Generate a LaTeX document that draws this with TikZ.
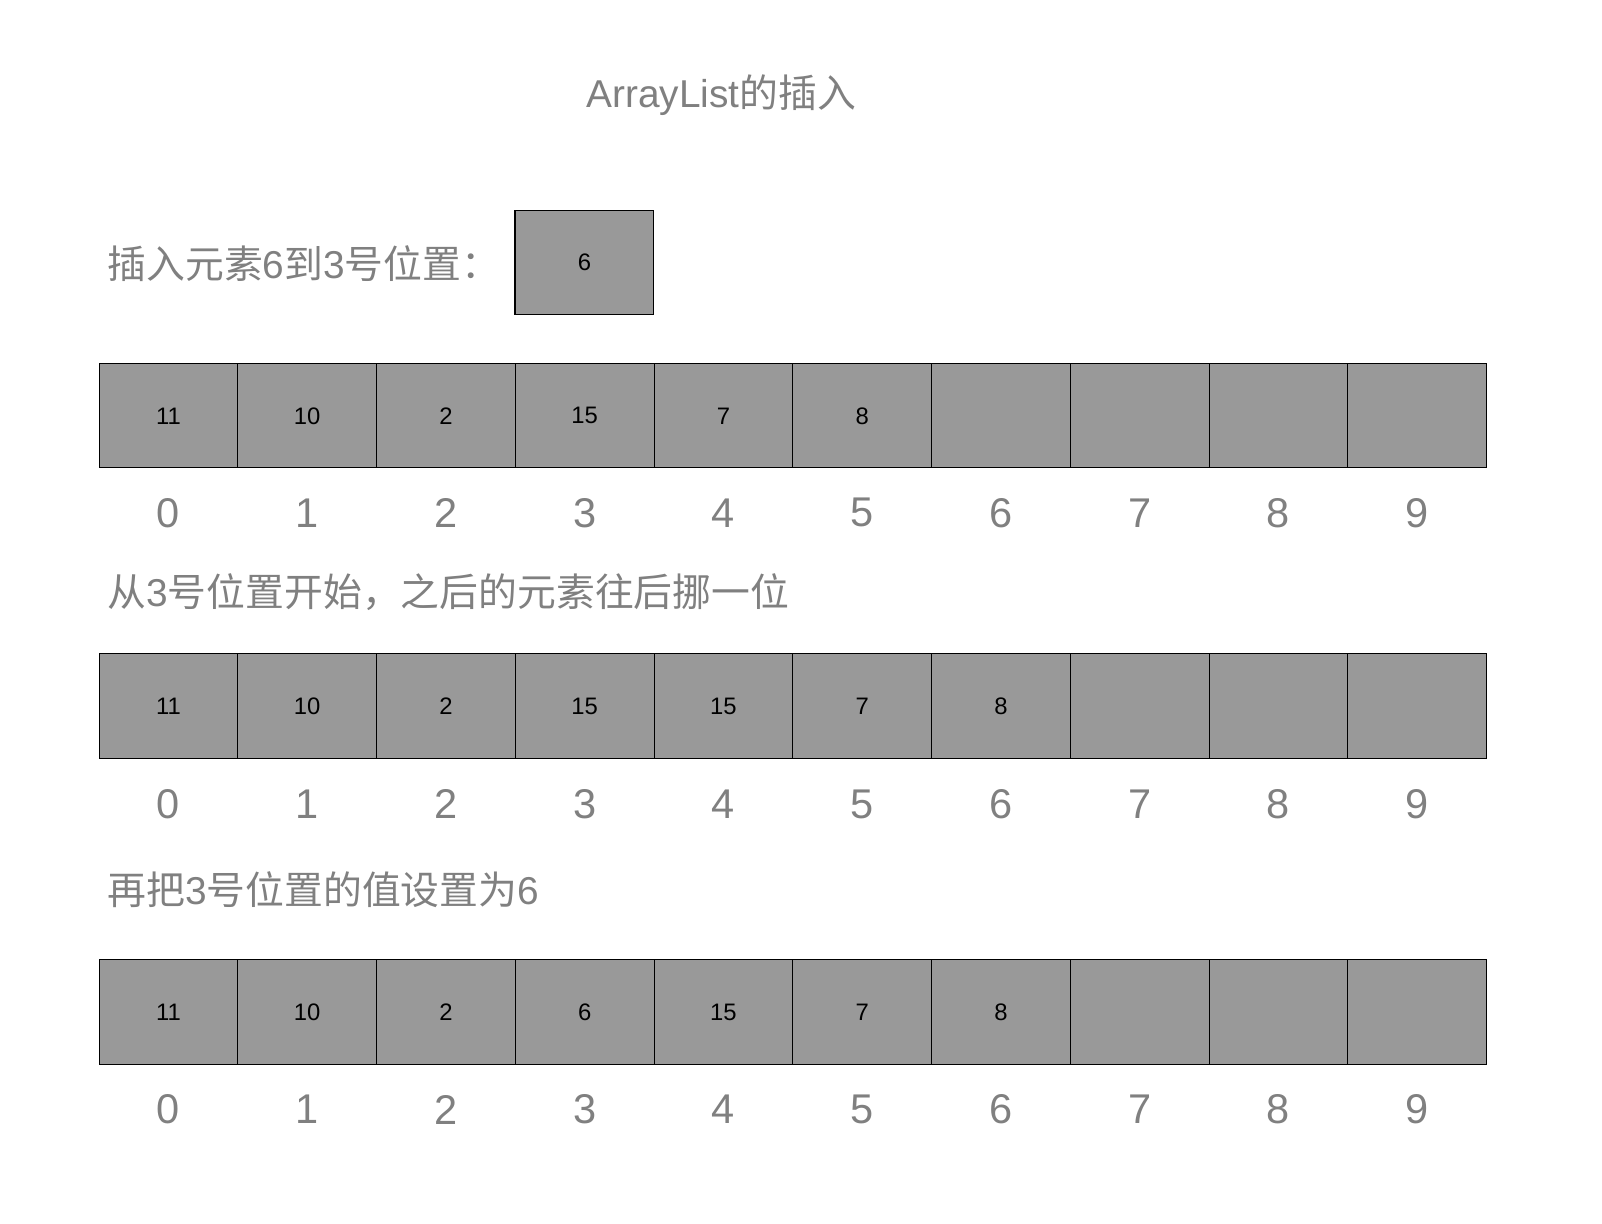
\documentclass[tikz,border=0pt]{standalone}
\usepackage{fontspec}
\setmainfont{Liberation Sans}
\newfontfamily\cjk{Noto Sans CJK SC}
\definecolor{cellgray}{HTML}{999999}
\definecolor{textgray}{HTML}{808080}
\begin{document}
\begin{tikzpicture}[x=0.75pt, y=-0.75pt,
  cell/.style={draw=black, fill=cellgray, line width=0.8pt, minimum width=101.85pt,
    minimum height=76.5pt, inner sep=0pt, font=\fontsize{17.5}{20}\selectfont},
  index/.style={text=textgray, inner sep=0pt, font=\fontsize{30.5}{34}\selectfont},
  caption/.style={text=textgray, inner sep=0pt, anchor=west, font=\fontsize{28.5}{32}\selectfont}]

\useasboundingbox (0,0) rectangle (1568,1198);

% title
\node (title) at (706, 93) [caption, anchor=center] {ArrayList{\cjk 的插入}};

% element to insert
\node (step1) at (105, 258) [caption] {{\cjk 插入元素}6{\cjk 到}3{\cjk 号位置：}};
\node (new) at (572, 257) [cell] {6};

% before
\foreach \v [count=\i from 0] in {11,10,2,15,7,8,{},{},{},{}} {
  \node (a\i) at ({164.9+135.8*\i}, 407) [cell] {\v};
  \node (ia\i) at ({164.9+135.8*\i}, 502) [index] {\i};
}

\node (step2) at (105, 580) [caption] {{\cjk 从}3{\cjk 号位置开始，之后的元素往后挪一位}};

% shifted
\foreach \v [count=\i from 0] in {11,10,2,15,15,7,8,{},{},{}} {
  \node (b\i) at ({164.9+135.8*\i}, 691) [cell] {\v};
  \node (ib\i) at ({164.9+135.8*\i}, 787) [index] {\i};
}

\node (step3) at (105, 871) [caption] {{\cjk 再把}3{\cjk 号位置的值设置为}6};

% after
\foreach \v [count=\i from 0] in {11,10,2,6,15,7,8,{},{},{}} {
  \node (c\i) at ({164.9+135.8*\i}, 990.5) [cell] {\v};
  \node (ic\i) at ({164.9+135.8*\i}, 1086) [index] {\i};
}

\end{tikzpicture}
\end{document}
